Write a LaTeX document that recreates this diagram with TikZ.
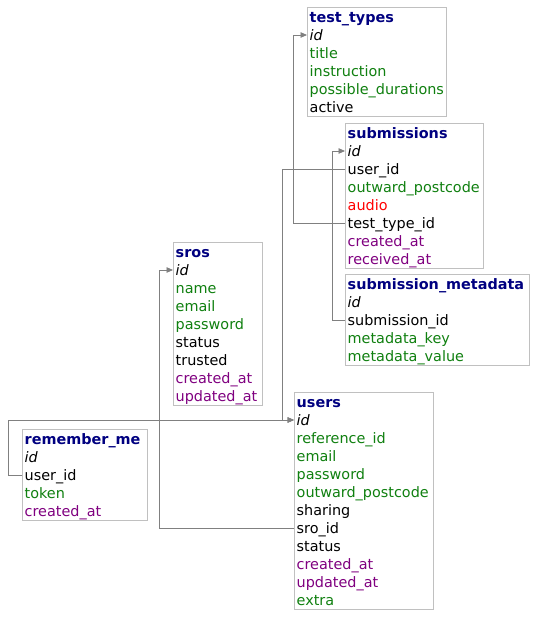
\documentclass[tikz,border=0pt]{standalone}
\usepackage{fontspec}
\setmainfont{DejaVu Sans}
\usetikzlibrary{arrows.meta}
\definecolor{ttl}{HTML}{000080}
\definecolor{fgreen}{HTML}{108010}
\definecolor{fpurple}{HTML}{800080}
\definecolor{fred}{HTML}{FF0000}
\definecolor{lnk}{HTML}{808080}
\definecolor{bord}{HTML}{C0C0C0}
\begin{document}
\begin{tikzpicture}[x=1pt,y=-1pt,
  tbox/.style={draw=bord, line width=1pt, anchor=north west, inner sep=0pt},
  row/.style={anchor=west, inner xsep=2.5pt, inner ysep=0pt, minimum height=18pt,
    text height=12pt, text depth=0.5pt, font=\fontsize{14.4}{18}\selectfont},
  head/.style={row, text=ttl, font=\fontsize{14.4}{18}\selectfont\bfseries},
  pk/.style={row, font=\fontsize{14.4}{18}\selectfont\itshape},
  plain/.style={row, text=black},
  grn/.style={row, text=fgreen},
  prp/.style={row, text=fpurple},
  rd/.style={row, text=fred},
  fk/.style={draw=lnk, line width=0.9pt, -{Triangle[length=6.5pt,width=5.5pt]}}]
\useasboundingbox (0,0) rectangle (537,618);
\fill[white] (0,0) rectangle (537,618);

% test_types
\node[tbox, minimum width=139pt, minimum height=109pt] (tt) at (307,7) {};
\node[head] (tt-t) at (307,17) {test\_types};
\node[pk] (tt-id) at (307,35) {id};
\node[grn] (tt-title) at (307,53) {title};
\node[grn] (tt-ins) at (307,71) {instruction};
\node[grn] (tt-pd) at (307,89) {possible\_durations};
\node[plain] (tt-act) at (307,107) {active};

% submissions
\node[tbox, minimum width=138pt, minimum height=145pt] (sub) at (345,123) {};
\node[head] (sub-t) at (345,133) {submissions};
\node[pk] (sub-id) at (345,151) {id};
\node[plain] (sub-uid) at (345,169) {user\_id};
\node[grn] (sub-op) at (345,187) {outward\_postcode};
\node[rd] (sub-au) at (345,205) {audio};
\node[plain] (sub-ttid) at (345,223) {test\_type\_id};
\node[prp] (sub-ca) at (345,241) {created\_at};
\node[prp] (sub-ra) at (345,259) {received\_at};

% submission_metadata
\node[tbox, minimum width=184pt, minimum height=91pt] (md) at (345,274) {};
\node[head] (md-t) at (345,284) {submission\_metadata};
\node[pk] (md-id) at (345,302) {id};
\node[plain] (md-sid) at (345,320) {submission\_id};
\node[grn] (md-k) at (345,338) {metadata\_key};
\node[grn] (md-v) at (345,356) {metadata\_value};

% sros
\node[tbox, minimum width=89pt, minimum height=163pt] (sr) at (173,242) {};
\node[head] (sr-t) at (173,252) {sros};
\node[pk] (sr-id) at (173,270) {id};
\node[grn] (sr-n) at (173,288) {name};
\node[grn] (sr-e) at (173,306) {email};
\node[grn] (sr-p) at (173,324) {password};
\node[plain] (sr-s) at (173,342) {status};
\node[plain] (sr-tr) at (173,360) {trusted};
\node[prp] (sr-ca) at (173,378) {created\_at};
\node[prp] (sr-ua) at (173,396) {updated\_at};

% remember_me
\node[tbox, minimum width=125pt, minimum height=91pt] (rm) at (22,429) {};
\node[head] (rm-t) at (22,439) {remember\_me};
\node[pk] (rm-id) at (22,457) {id};
\node[plain] (rm-uid) at (22,475) {user\_id};
\node[grn] (rm-tok) at (22,493) {token};
\node[prp] (rm-ca) at (22,511) {created\_at};

% users
\node[tbox, minimum width=139pt, minimum height=217pt] (us) at (294,392) {};
\node[head] (us-t) at (294,402) {users};
\node[pk] (us-id) at (294,420) {id};
\node[grn] (us-ref) at (294,438) {reference\_id};
\node[grn] (us-e) at (294,456) {email};
\node[grn] (us-p) at (294,474) {password};
\node[grn] (us-op) at (294,492) {outward\_postcode};
\node[plain] (us-sh) at (294,510) {sharing};
\node[plain] (us-sro) at (294,528) {sro\_id};
\node[plain] (us-st) at (294,546) {status};
\node[prp] (us-ca) at (294,564) {created\_at};
\node[prp] (us-ua) at (294,582) {updated\_at};
\node[grn] (us-x) at (294,600) {extra};

% connectors
\draw[fk] (sub-ttid.west) -- ++(-52,0) |- (tt-id.west);
\draw[fk] (md-sid.west) -- ++(-13,0) |- (sub-id.west);
\draw[fk] (sub-uid.west) -- ++(-63,0) |- (us-id.west);
\draw[fk] (rm-uid.west) -- ++(-14,0) |- (us-id.west);
\draw[fk] (us-sro.west) -- ++(-135,0) |- (sr-id.west);
\end{tikzpicture}
\end{document}
